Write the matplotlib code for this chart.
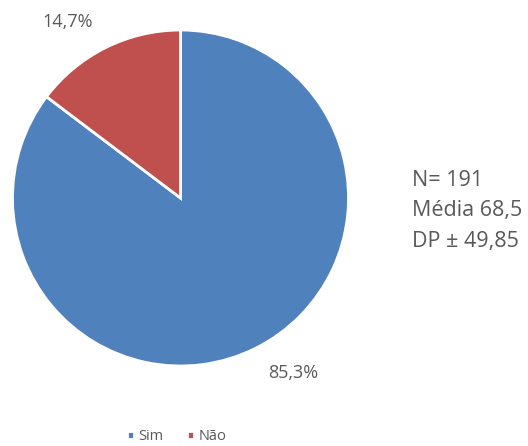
import matplotlib.pyplot as plt

categorias = ["Sim", "Não"]
valores = [85.3, 14.7]
cores = ["#4F81BD", "#C0504D"]
estatisticas = ["N= 191", "Média 68,5", "DP ± 49,85"]

plt.rcParams['font.family'] = ['Open Sans', 'DejaVu Sans']
cinza = "#595959"

fig = plt.figure(figsize=(5.28, 4.46), dpi=100)
ax = fig.add_axes([12.5 / 528, (446 - 198 - 168) / 446, 336 / 528, 336 / 446])

wedges, _, pcts = ax.pie(
    valores, colors=cores, startangle=90, counterclock=False,
    autopct=lambda p: f"{p:.1f}%".replace(".", ","), pctdistance=1.2,
    wedgeprops=dict(edgecolor="white", linewidth=2),
    textprops=dict(color=cinza, fontsize=13),
)
ax.set_aspect("equal")
ax.set_xlim(-1, 1)
ax.set_ylim(-1, 1)

# rótulos de porcentagem fora da pizza, como no Excel
pcts[0].set_position((0.67, -1.04))
pcts[1].set_position((-0.67, 1.05))

for i, linha in enumerate(estatisticas):
    fig.text(412 / 528, 1 - (180 + 31 * i) / 446, linha, color=cinza,
             fontsize=15.5, va="center", ha="left")

fig.legend(wedges, categorias, loc="center", bbox_to_anchor=(0.335, 1 - 437 / 446),
           ncol=2, frameon=False, fontsize=10.5, handlelength=0.5, handleheight=0.5,
           handletextpad=0.3, columnspacing=1.6, labelcolor=cinza)

fig.savefig("out.png", dpi=100)
